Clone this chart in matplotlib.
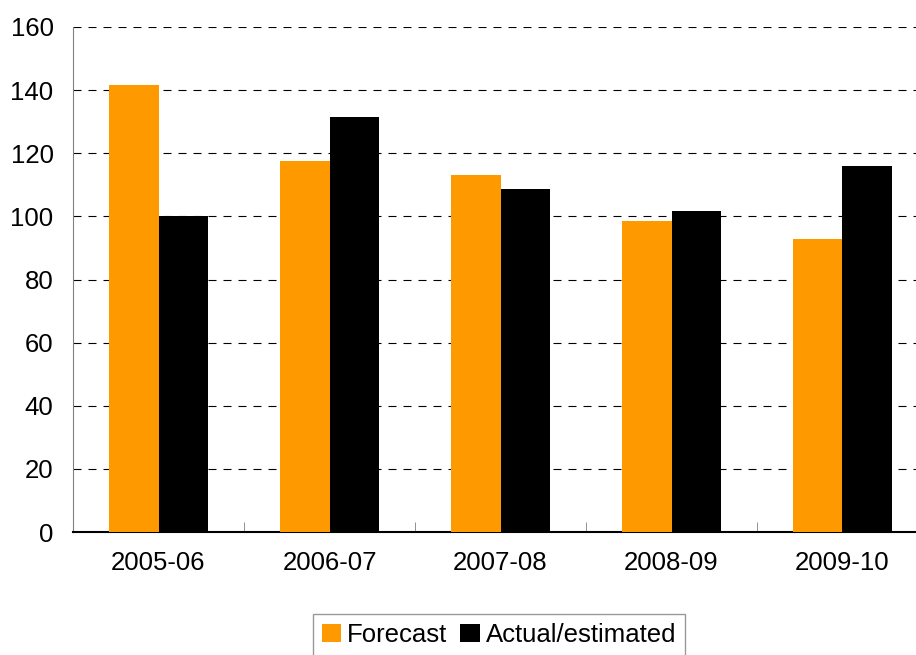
import matplotlib
matplotlib.use("Agg")
import matplotlib.pyplot as plt
import numpy as np
from matplotlib.patches import Patch

plt.rcParams["font.family"] = ["Liberation Sans", "DejaVu Sans"]

years = ["2005-06", "2006-07", "2007-08", "2008-09", "2009-10"]
forecast = [141.7, 117.5, 113.2, 98.5, 92.8]
actual = [100.0, 131.6, 108.7, 101.7, 116.0]

orange = "#FF9900"
W, H = 916, 655

fig = plt.figure(figsize=(W / 100, H / 100), dpi=100)
ax = fig.add_axes([73 / W, (H - 532) / H, (916 - 73) / W, (532 - 27) / H])

x = np.arange(len(years))
bw = 0.29
ax.bar(x - bw / 2, forecast, bw, color=orange, zorder=3)
ax.bar(x + bw / 2, actual, bw, color="black", zorder=3)

ax.set_xlim(-0.5, -0.5 + (916 - 73) / 171)
ax.set_ylim(0, 160)
ax.set_yticks(range(0, 161, 20))
ax.yaxis.grid(True, color="black", linestyle=(0, (7.2, 6.3)), linewidth=0.8, zorder=1)

ax.set_xticks(x)
ax.set_xticklabels(years, fontsize=18.5)
ax.set_xticks(np.arange(0.5, 4.5, 1), minor=True)
ax.tick_params(axis="x", which="major", length=0, pad=14)
ax.tick_params(axis="x", which="minor", direction="in", length=7, color="#808080")
ax.tick_params(axis="y", length=0, labelsize=18.5, pad=14)

for s in ["top", "right"]:
    ax.spines[s].set_visible(False)
ax.spines["left"].set_color("#808080")
ax.spines["bottom"].set_color("black")
ax.spines["bottom"].set_linewidth(1.5)

handles = [Patch(facecolor=orange, label="Forecast"),
           Patch(facecolor="black", label="Actual/estimated")]
leg = fig.legend(handles=handles, loc="upper center",
                 bbox_to_anchor=(499 / W, (H - 614) / H), ncol=2, fontsize=18.5,
                 frameon=True, fancybox=False, edgecolor="#808080",
                 handlelength=0.75, handleheight=0.75, handletextpad=0.25,
                 columnspacing=0.5, borderpad=0.35, borderaxespad=0)
leg.get_frame().set_linewidth(1)

fig.savefig("out.png", dpi=100)
